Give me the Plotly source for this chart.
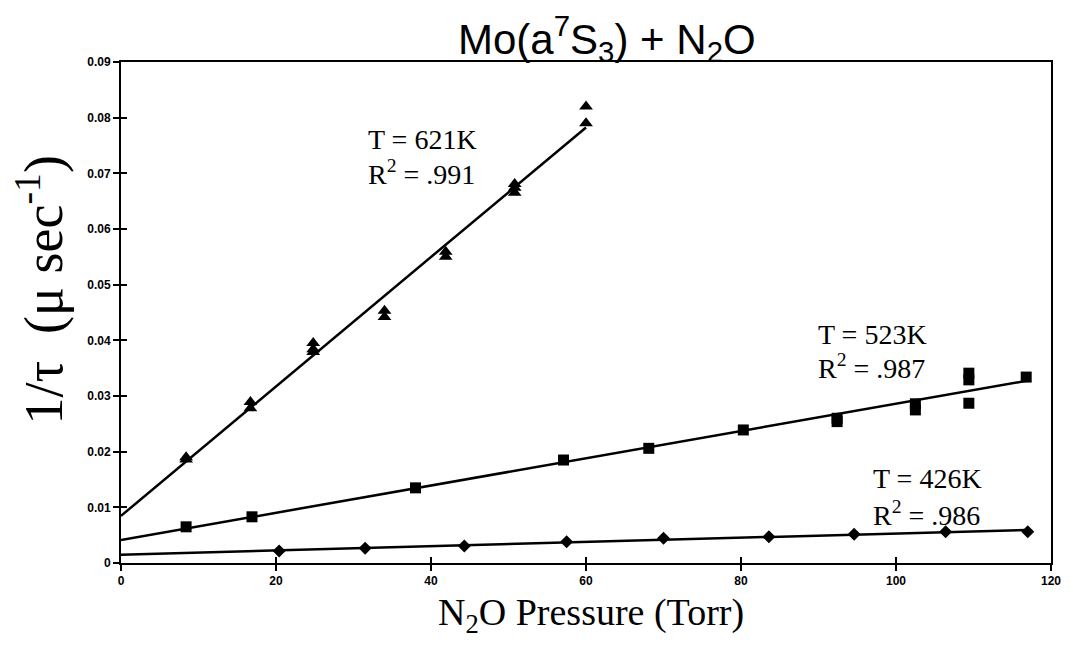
import numpy as np
import plotly.graph_objects as go

# ---- data ----
x_621 = [8.4, 8.4, 16.7, 16.7, 24.8, 24.8, 24.8, 34.0, 34.0, 41.9, 41.9, 50.8, 50.8, 50.8, 60.0, 60.0]
y_621 = [0.0190, 0.0186, 0.0289, 0.0278, 0.0395, 0.0384, 0.0379, 0.0453, 0.0442,
         0.0559, 0.0550, 0.0681, 0.0674, 0.0665, 0.0820, 0.0790]

x_523 = [8.4, 16.9, 38.0, 57.1, 68.1, 80.3, 92.4, 92.4, 102.5, 102.5, 109.4, 109.4, 109.4, 116.8]
y_523 = [0.0065, 0.0083, 0.0135, 0.0185, 0.0206, 0.0239, 0.0254, 0.0260, 0.0286, 0.0275,
         0.0341, 0.0329, 0.0287, 0.0334]

x_426 = [20.4, 31.5, 44.3, 57.5, 70.0, 83.6, 94.6, 106.4, 117.0]
y_426 = [0.00216, 0.00264, 0.00305, 0.00383, 0.00443, 0.00473, 0.00515, 0.00563, 0.00563]

label_line1 = ["T = 621K", "T = 523K", "T = 426K"]
label_line2 = ["R<sup>2</sup> = .991", "R<sup>2</sup> = .987", "R<sup>2</sup> = .986"]
label_x = [31.6, 89.7, 96.8]
label_y1 = [0.0761, 0.0411, 0.0151]
label_y2 = [0.0701, 0.0353, 0.0089]
fit_xmax = [60, 117, 117]

x_ticks = [0, 20, 40, 60, 80, 100, 120]
y_ticks = [0, 0.01, 0.02, 0.03, 0.04, 0.05, 0.06, 0.07, 0.08, 0.09]
y_ticktext = ["0", "0.01", "0.02", "0.03", "0.04", "0.05", "0.06", "0.07", "0.08", "0.09"]

series = [(x_621, y_621, "triangle-up", 12), (x_523, y_523, "square", 11), (x_426, y_426, "diamond", 10)]

fig = go.Figure()

for (xs, ys, sym, sz), xmax in zip(series, fit_xmax):
    slope, icpt = np.polyfit(xs, ys, 1)
    xf = np.array([0, xmax])
    fig.add_trace(go.Scatter(x=xf, y=icpt + slope * xf, mode="lines",
                             line=dict(color="black", width=2.5), showlegend=False, hoverinfo="skip"))
    fig.add_trace(go.Scatter(x=xs, y=ys, mode="markers",
                             marker=dict(symbol=sym, size=sz, color="black"), showlegend=False))

# invisible trace for the overlay axes (inner half of crossing ticks)
fig.add_trace(go.Scatter(x=[0], y=[0], xaxis="x2", yaxis="y2", mode="markers",
                         marker=dict(opacity=0), showlegend=False, hoverinfo="skip"))

tickfont = dict(family="Liberation Sans", size=12, color="black")
fig.update_layout(
    width=1073, height=656,
    margin=dict(l=121, r=15, t=62, b=93),
    paper_bgcolor="white", plot_bgcolor="white",
    xaxis=dict(range=[0, 120], tickvals=x_ticks, ticktext=[f"<b>{v}</b>" for v in x_ticks],
               ticks="outside", ticklen=6, tickwidth=1.5,
               tickcolor="black", showline=True, linecolor="black", linewidth=2, mirror=True,
               showgrid=False, zeroline=False, tickfont=tickfont),
    yaxis=dict(range=[0, 0.09], tickvals=y_ticks, ticktext=[f"<b>{t}</b>" for t in y_ticktext],
               ticks="outside", ticklen=6,
               tickwidth=1.5, tickcolor="black", showline=True, linecolor="black", linewidth=2,
               mirror=True, showgrid=False, zeroline=False, tickfont=tickfont),
    xaxis2=dict(range=[0, 120], tickvals=x_ticks, ticks="inside", ticklen=6, tickwidth=1.5,
                tickcolor="black", showticklabels=False, showgrid=False, zeroline=False,
                overlaying="x", anchor="y2", showline=False),
    yaxis2=dict(range=[0, 0.09], tickvals=y_ticks, ticks="inside", ticklen=6, tickwidth=1.5,
                tickcolor="black", showticklabels=False, showgrid=False, zeroline=False,
                overlaying="y", anchor="x2", side="left", showline=False),
)

lab_font = dict(family="Liberation Serif", size=28, color="black")
for t1, t2, lx, y1, y2 in zip(label_line1, label_line2, label_x, label_y1, label_y2):
    fig.add_annotation(x=lx, y=y1, xref="x", yref="y", text=t1, showarrow=False,
                       xanchor="left", yanchor="middle", font=lab_font)
    fig.add_annotation(x=lx, y=y2, xref="x", yref="y", text=t2, showarrow=False,
                       xanchor="left", yanchor="middle", font=lab_font)

fig.add_annotation(x=0.523, y=1.046, xref="paper", yref="paper",
                   text="Mo(a<sup>7</sup>S<sub>3</sub>) + N<sub>2</sub>O", showarrow=False,
                   xanchor="center", yanchor="middle",
                   font=dict(family="Liberation Sans", size=42, color="black"))
fig.add_annotation(x=0.505, y=-0.104, xref="paper", yref="paper",
                   text="N<sub>2</sub>O Pressure (Torr)", showarrow=False,
                   xanchor="center", yanchor="middle",
                   font=dict(family="Liberation Serif", size=38, color="black"))
fig.add_annotation(x=-0.0864, y=0.545, xref="paper", yref="paper",
                   text="1/τ  (μ sec<sup>-1</sup>)", showarrow=False, textangle=-90,
                   xanchor="center", yanchor="middle",
                   font=dict(family="Liberation Serif", size=54, color="black"))

fig.write_html("out.html")
